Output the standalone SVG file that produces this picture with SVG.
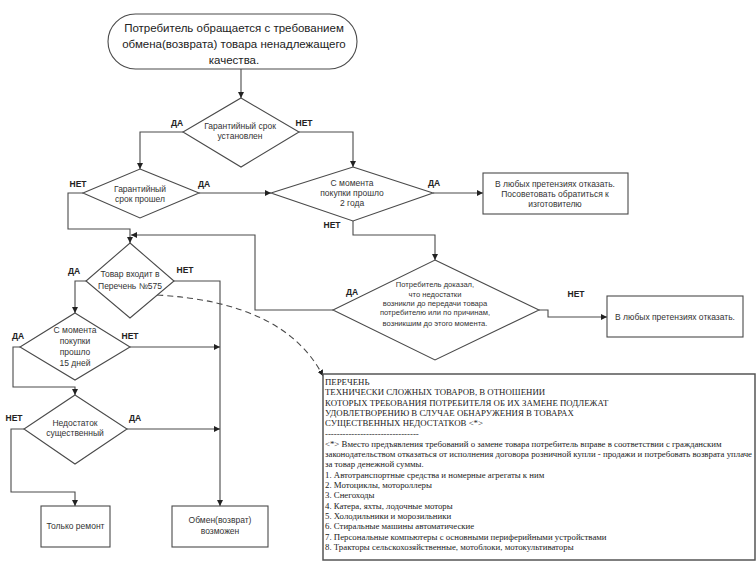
<svg xmlns="http://www.w3.org/2000/svg" width="756" height="563" viewBox="0 0 756 563">
<defs>
<marker id="arr" viewBox="0 0 6 6" refX="6" refY="3" markerWidth="6" markerHeight="6" markerUnits="userSpaceOnUse" orient="auto"><path d="M0,0 L6,3 L0,6 z" fill="#222"/></marker>
<style>
.shape{fill:#fff;stroke:#4a4a4a;stroke-width:1.1}
.con{fill:none;stroke:#4a4a4a;stroke-width:1.1;marker-end:url(#arr)}
.dash{stroke-dasharray:6,4}
.t{font-family:"Liberation Sans",Arial,sans-serif;font-size:8.5px;fill:#333;text-anchor:middle}
.ts{font-size:7.6px}
.tb{font-family:"Liberation Sans",Arial,sans-serif;font-size:8.5px;font-weight:bold;fill:#222;text-anchor:middle}
.tl{font-family:"Liberation Sans",Arial,sans-serif;font-size:11.5px;fill:#222;text-anchor:middle}
.ps{font-family:"Liberation Serif","Times New Roman",serif;font-size:8.8px;fill:#222}
</style>
</defs>
<rect width="756" height="563" fill="#fff"/>

<g id="connectors">
<path class="con" d="M241,69 V98"/>
<path class="con" d="M183,132 H140 V169"/>
<path class="con" d="M299,132 H353 V167"/>
<path class="con" d="M199,193 H271"/>
<path class="con" d="M83,193 H68 V229 H130 V243"/>
<path class="con" d="M433,193 H483"/>
<path class="con" d="M353,221 V235 H435 V260"/>
<path class="con" d="M539,310 H548 V317 H607"/>
<path class="con" d="M333,310 H255 V235 H131"/>
<path class="con" d="M86,281 H75 V313"/>
<path class="con" d="M174,281 H220 V506"/>
<path class="con" d="M130,347 H220"/>
<path class="con" d="M20,347 H13 V387 H75 V395"/>
<path class="con" d="M127,429 H220"/>
<path class="con" d="M24,429 H11 V492 H75 V506"/>
<path class="con dash" d="M157,295 Q285,302 323,376"/>
</g>

<g id="start">
<rect class="shape" x="108" y="14" width="249" height="55" rx="27.5"/>
<text class="tl" x="234" y="32">Потребитель обращается с требованием</text>
<text class="tl" x="234" y="48">обмена(возврата) товара ненадлежащего</text>
<text class="tl" x="234" y="64">качества.</text>
</g>

<g id="d1">
<polygon class="shape" points="241,98 299,132 241,167 183,132"/>
<text class="t" x="240" y="129">Гарантийный срок</text>
<text class="t" x="240" y="139">установлен</text>
<text class="tb" x="177" y="126">ДА</text>
<text class="tb" x="304" y="126">НЕТ</text>
</g>

<g id="d2">
<polygon class="shape" points="140,169 199,193 140,218 83,193"/>
<text class="t" x="140" y="192">Гарантийный</text>
<text class="t" x="140" y="202">срок прошел</text>
<text class="tb" x="78" y="187">НЕТ</text>
<text class="tb" x="204" y="187">ДА</text>
</g>

<g id="d3">
<polygon class="shape" points="353,167 433,193 353,221 271,193"/>
<text class="t" x="352" y="186">С момента</text>
<text class="t" x="352" y="196">покупки прошло</text>
<text class="t" x="352" y="206">2 года</text>
<text class="tb" x="434" y="186">ДА</text>
<text class="tb" x="332" y="228">НЕТ</text>
</g>

<g id="box-refuse-manufacturer">
<rect class="shape" x="483" y="173" width="145" height="41"/>
<text class="t" x="555" y="187">В любых претензиях отказать.</text>
<text class="t" x="555" y="197">Посоветовать обратиться к</text>
<text class="t" x="555" y="207">изготовителю</text>
</g>

<g id="d4">
<polygon class="shape" points="435,260 539,310 435,360 333,310"/>
<text class="t ts" x="435" y="287">Потребитель доказал,</text>
<text class="t ts" x="435" y="297">что недостатки</text>
<text class="t ts" x="435" y="306">возникли до передачи товара</text>
<text class="t ts" x="435" y="315">потребителю или по причинам,</text>
<text class="t ts" x="435" y="326">возникшим до этого момента.</text>
<text class="tb" x="352" y="295">ДА</text>
<text class="tb" x="576" y="297">НЕТ</text>
</g>

<g id="box-refuse">
<rect class="shape" x="607" y="296" width="136" height="41"/>
<text class="t" x="675" y="320">В любых претензиях отказать.</text>
</g>

<g id="d5">
<polygon class="shape" points="130,243 174,281 130,318 86,281"/>
<text class="t" x="130" y="277">Товар входит в</text>
<text class="t" x="130" y="289">Перечень №575</text>
<text class="tb" x="74" y="274">ДА</text>
<text class="tb" x="185" y="273">НЕТ</text>
</g>

<g id="d6">
<polygon class="shape" points="75,313 130,347 75,380 20,347"/>
<text class="t" x="75" y="333">С момента</text>
<text class="t" x="75" y="344">покупки</text>
<text class="t" x="75" y="355">прошло</text>
<text class="t" x="75" y="366">15 дней</text>
<text class="tb" x="18" y="339">ДА</text>
<text class="tb" x="130" y="339">НЕТ</text>
</g>

<g id="d7">
<polygon class="shape" points="75,395 127,429 75,464 24,429"/>
<text class="t" x="75" y="426">Недостаток</text>
<text class="t" x="75" y="436">существенный</text>
<text class="tb" x="14" y="421">НЕТ</text>
<text class="tb" x="135" y="421">ДА</text>
</g>

<g id="box-repair">
<rect class="shape" x="41" y="506" width="69" height="41"/>
<text class="t" x="75.5" y="529">Только ремонт</text>
</g>

<g id="box-exchange">
<rect class="shape" x="172" y="506" width="96" height="41"/>
<text class="t" x="220" y="523">Обмен(возврат)</text>
<text class="t" x="220" y="534">возможен</text>
</g>

<g id="perechen">
<rect x="323" y="374" width="432" height="186" fill="#fff" stroke="#555" stroke-width="1.5"/>
<text class="ps">
<tspan x="325" y="385">ПЕРЕЧЕНЬ</tspan>
<tspan x="325" dy="10.3">ТЕХНИЧЕСКИ СЛОЖНЫХ ТОВАРОВ, В ОТНОШЕНИИ</tspan>
<tspan x="325" dy="10.3">КОТОРЫХ ТРЕБОВАНИЯ ПОТРЕБИТЕЛЯ ОБ ИХ ЗАМЕНЕ ПОДЛЕЖАТ</tspan>
<tspan x="325" dy="10.3">УДОВЛЕТВОРЕНИЮ В СЛУЧАЕ ОБНАРУЖЕНИЯ В ТОВАРАХ</tspan>
<tspan x="325" dy="10.3">СУЩЕСТВЕННЫХ НЕДОСТАТКОВ &lt;*&gt;</tspan>
<tspan x="325" dy="10.3">--------------------------------</tspan>
<tspan x="325" dy="10.3">&lt;*&gt; Вместо предъявления требований о замене товара потребитель вправе в соответствии с гражданским</tspan>
<tspan x="325" dy="10.3">законодательством отказаться от исполнения договора розничной купли - продажи и потребовать возврата уплаче</tspan>
<tspan x="325" dy="10.3">за товар денежной суммы.</tspan>
<tspan x="325" dy="10.3">1. Автотранспортные средства и номерные агрегаты к ним</tspan>
<tspan x="325" dy="10.3">2. Мотоциклы, мотороллеры</tspan>
<tspan x="325" dy="10.3">3. Снегоходы</tspan>
<tspan x="325" dy="10.3">4. Катера, яхты, лодочные моторы</tspan>
<tspan x="325" dy="10.3">5. Холодильники и морозильники</tspan>
<tspan x="325" dy="10.3">6. Стиральные машины автоматические</tspan>
<tspan x="325" dy="10.3">7. Персональные компьютеры с основными периферийными устройствами</tspan>
<tspan x="325" dy="10.3">8. Тракторы сельскохозяйственные, мотоблоки, мотокультиваторы</tspan>
</text>
</g>
</svg>
